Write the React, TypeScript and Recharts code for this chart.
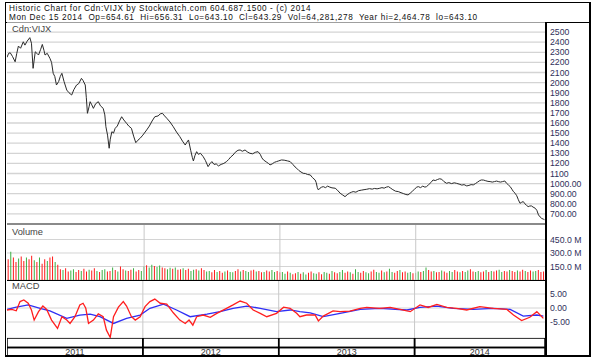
import { LineChart, Line, BarChart, Bar, Cell, XAxis, YAxis, CartesianGrid, ReferenceLine, ReferenceArea, LabelList } from "recharts";

// price (close) — day index from Jan 2011 (250 per year)
const priceDay = [
  0, 3, 6, 10, 15, 18, 21, 25, 30, 33, 37, 42, 45, 48, 52, 55, 58, 62, 65, 68, 70, 74, 79, 82, 85, 88, 91, 95, 98,
  101, 105, 110, 114, 119, 123, 128, 132, 137, 140, 144, 146, 148, 151, 153, 156, 159, 163, 168, 172, 177, 180,
  182, 185, 188, 190, 193, 196, 199, 203, 207, 211, 215, 220, 224, 229, 233, 237, 241, 245, 250, 257, 262, 267,
  272, 278, 282, 286, 290, 294, 300, 306, 312, 318, 323, 328, 331, 334, 338, 341, 343, 346, 349, 352, 356, 361,
  365, 370, 374, 377, 381, 385, 389, 394, 399, 404, 408, 412, 416, 420, 425, 429, 433, 438, 442, 447, 452, 457,
  462, 466, 469, 472, 477, 481, 484, 488, 492, 496, 500, 505, 510, 516, 521, 526, 530, 533, 537, 541, 545, 549,
  553, 558, 562, 565, 567, 569, 571, 573, 576, 579, 582, 586, 590, 594, 598, 604, 608, 613, 617, 622, 626, 630,
  634, 637, 642, 647, 652, 657, 662, 667, 672, 676, 681, 686, 690, 694, 698, 702, 706, 710, 715, 720, 725, 730,
  734, 738, 742, 746, 750, 754, 757, 761, 765, 769, 772, 776, 780, 784, 788, 792, 796, 800, 804, 809, 813, 818,
  823, 827, 832, 837, 841, 846, 850, 854, 858, 862, 866, 870, 873, 877, 881, 885, 889, 893, 897, 901, 904, 908,
  912, 916, 919, 923, 926, 929, 932, 935, 938, 941, 944, 947, 950, 953, 956, 959, 962, 965, 968, 972, 975, 978,
  981, 984, 987, 989,
];
const priceClose = [
  2250, 2290, 2295, 2260, 2206, 2290, 2362, 2340, 2404, 2371, 2410, 2445, 2390, 2141, 2305, 2290, 2273, 2330, 2378,
  2320, 2273, 2290, 2240, 2200, 2092, 2060, 1976, 2010, 2060, 2092, 2010, 1926, 1900, 1877, 1930, 1976, 1990, 2042,
  2020, 1976, 1850, 1696, 1760, 1811, 1780, 1745, 1790, 1811, 1770, 1745, 1680, 1563, 1480, 1350, 1440, 1514, 1500,
  1547, 1570, 1620, 1662, 1630, 1597, 1570, 1547, 1470, 1405, 1430, 1449, 1480, 1531, 1570, 1620, 1662, 1670, 1690,
  1696, 1670, 1647, 1610, 1563, 1510, 1465, 1420, 1382, 1410, 1432, 1330, 1260, 1224, 1280, 1316, 1290, 1300, 1267,
  1230, 1168, 1200, 1218, 1190, 1195, 1175, 1190, 1200, 1218, 1240, 1265, 1283, 1310, 1330, 1333, 1320, 1333, 1315,
  1300, 1295, 1310, 1316, 1290, 1255, 1234, 1215, 1200, 1185, 1195, 1210, 1218, 1225, 1234, 1232, 1225, 1218, 1190,
  1165, 1152, 1130, 1115, 1102, 1100, 1090, 1086, 1060, 1045, 1036, 1010, 960, 937, 955, 965, 970, 960, 975, 965,
  958, 954, 935, 905, 890, 871, 890, 905, 915, 921, 915, 930, 935, 940, 944, 950, 945, 952, 948, 954, 960, 955,
  965, 970, 955, 940, 925, 921, 910, 900, 892, 888, 905, 925, 945, 965, 970, 960, 975, 965, 970, 990, 1010, 1036,
  1030, 1040, 1048, 1043, 1020, 1003, 1010, 1000, 1008, 1003, 995, 985, 990, 977, 982, 990, 987, 1000, 1015, 1030,
  1036, 1035, 1028, 1022, 1020, 1015, 1020, 1025, 1020, 1015, 1020, 1026, 1005, 985, 970, 945, 920, 904, 880, 840,
  805, 815, 822, 800, 785, 772, 778, 779, 768, 756, 735, 690, 670, 655, 648, 643,
];

// weekly volume, millions of shares; u = up week (green), d = down week (red)
const volume = [
  230, 315, 250, 200, 240, 260, 210, 250, 230, 270, 220, 200, 250, 180, 230, 210, 250, 260, 200, 170,
  120, 110, 130, 95, 105, 120, 90, 110, 100, 125, 95, 115, 105, 130, 100, 90, 110, 120, 95, 100,
  140, 110, 95, 150, 120, 105, 100, 115, 130, 95, 110, 100,
  150, 165, 140, 170, 155, 145, 160, 140, 130, 120, 135, 125, 140, 115, 120, 130, 110, 125, 100, 115,
  120, 105, 130, 110, 95, 100, 85, 110, 90, 100, 80, 95, 105, 90, 85, 100, 120, 95, 110, 100,
  90, 105, 115, 95, 100, 85, 90, 105, 95, 110, 90, 100,
  85, 90, 70, 95, 80, 65, 75, 90, 70, 85, 60, 80, 95, 75, 70, 85, 65, 90, 80, 70,
  100, 85, 75, 90, 110, 80, 95, 85, 70, 120, 90, 80, 100, 85, 75, 95, 115, 90, 80, 105,
  85, 95, 125, 90, 80, 100, 110, 85, 95, 80, 90, 75,
  80, 95, 90, 100, 140, 110, 95, 100, 85, 90, 105, 95, 80, 100, 90, 110, 95, 85, 100, 90,
  105, 120, 95, 90, 100, 85, 95, 110, 90, 100, 95, 105, 115, 90, 100, 95, 110, 100, 90, 105,
  95, 115, 100, 90, 105, 95, 100, 110, 90, 95,
];
const volDir =
  "duddudduddududdudduddudduudduddudduduuddududdudduddu" +
  "uduuduudduududdudduududduuddudduduudduduudduddudduud" +
  "duududduduudduudduududduudduduudduudduududuuddudduud" +
  "uuduudduddudduudduduudduuddududduuddudduddudduuddd";

// MACD line and its signal line
const macdDay = [
  0, 9, 17, 24, 31, 39, 45, 50, 58, 66, 73, 82, 93, 101, 110, 116, 125, 134, 140, 145, 150, 159, 168, 177, 183,
  190, 196, 205, 214, 220, 229, 236, 245, 254, 263, 272, 282, 294, 306, 318, 328, 335, 342, 349, 361, 374, 386,
  404, 416, 429, 441, 453, 466, 478, 496, 509, 521, 533, 539, 551, 567, 573, 582, 600, 613, 631, 650, 662, 686,
  705, 723, 742, 760, 775, 791, 809, 827, 846, 870, 895, 920, 932, 947, 962, 975, 987,
];
const macdVal = [
  -0.7, -0.5, -1, 2.3, 2.9, 1.7, -0.7, -4.3, -1.3, 0.7, -0.5, -4.3, -7.3, -3.1, -4.3, -5.5, -3.1, 1.1, 1.7, -0.1,
  -5.5, -4.3, -2.1, -3.1, -7.9, -10.5, -3.1, 0.3, 2.3, 0.7, -3.1, -4.3, -3.1, 0.5, 2.3, 3.2, 1.7, 1.4, -1.7, -4.3,
  -5.5, -4.3, -6.1, -3.1, -2.5, -3.3, -1.9, -0.1, 1.1, 2.5, 1.7, -0.7, -1.9, -3.1, -1.9, 0.3, -0.1, -1.9, -3.1,
  -2.5, -2.5, -4.6, -2.9, -1, -1.3, -1.1, -0.1, 0.2, -0.1, 0.2, -0.5, -1.3, 1.1, 0.2, 1.3, 0.2, -0.1, -0.7, 0.5,
  -0.1, -0.5, -2.5, -4.5, -3.3, -1.3, -3.7,
];
const signalDay = [
  0, 15, 39, 61, 79, 110, 134, 153, 171, 196, 220, 245, 263, 288, 312, 337, 368, 392, 416, 441, 466, 496, 521,
  539, 558, 582, 613, 650, 686, 736, 760, 791, 821, 858, 895, 926, 950, 975, 987,
];
const signalVal = [
  -0.5, 0.2, 1.1, -0.1, -1, -3.7, -2.5, -2.2, -3.1, -5.5, -3.7, -2.5, -0.1, 1.4, -0.7, -3.1, -2.2, -1.3, -0.1,
  0.7, -0.1, -1.3, -0.7, -1.3, -1.7, -3.1, -1.9, -0.5, -0.1, -0.7, 0.2, 0.7, -0.1, -0.5, -0.1, -0.5, -2.9, -2.5,
  -2.9,
];

const years = ["2011", "2012", "2013", "2014"];
const yearStart = [0, 250, 500, 750];
const yearEnd = [250, 500, 750, 990];
const volYearWeeks = [52, 104, 156];

const priceTicks = [2500, 2400, 2300, 2200, 2100, 2000, 1900, 1800, 1700, 1600, 1500, 1400, 1300, 1200, 1100, 1000, 900, 800, 700];
const volTicks = [150, 300, 450];
const macdTicks = [5, 0, -5];

const FONT = "'Liberation Sans', Arial, sans-serif";
const PLOT_W = 538;
const AXIS_W = 45;

const priceData = priceDay.map((d, i) => ({ d, c: priceClose[i] }));
const volData = volume.map((v, i) => ({ w: i, v, up: volDir[i] === "u" }));
const macdData = macdDay.map((d, i) => ({ d, m: macdVal[i] }));
const signalData = signalDay.map((d, i) => ({ d, s: signalVal[i] }));
const yearLabels = years.map((y, i) => ({ d: (yearStart[i] + yearEnd[i]) / 2, row: 0.5, label: y }));

const abs = (left: number, top: number, extra: React.CSSProperties = {}): React.CSSProperties => ({
  position: "absolute", left, top, ...extra,
});

// plain svg text so labels like "450.0 M" don't get wrapped by recharts
const axisTick = (fmt: (v: number) => string) => (props: any) => (
  <text x={props.x} y={props.y} dy="0.35em" textAnchor="start" fill="#30305a" fontSize={8.7} fontFamily={FONT}>
    {fmt(props.payload.value)}
  </text>
);

const headerText: React.CSSProperties = {
  fontSize: 8.2, lineHeight: "9px", letterSpacing: 0.6, whiteSpace: "pre", color: "#111",
};

export default function App() {
  return (
    <div style={{ position: "absolute", left: 0, top: 0, width: 600, height: 364, background: "#fff", fontFamily: FONT }}>
      {/* outer frame + header */}
      <div style={abs(5, 2, { width: 586, height: 355, boxSizing: "border-box", borderTop: "1px solid #000", borderLeft: "1px solid #000", borderRight: "2px solid #000", borderBottom: "2px solid #000" })} />
      <div style={abs(5, 22, { width: 586, height: 1, background: "#000" })} />
      <div style={abs(9, 4, headerText)}>
        Historic Chart for Cdn:VIJX by Stockwatch.com 604.687.1500 - (c) 2014
      </div>
      <div style={abs(9, 13, headerText)}>
        {"Mon Dec 15 2014  Op=654.61  Hi=656.31  Lo=643.10  Cl=643.29  Vol=64,281,278  Year hi=2,464.78  lo=643.10"}
      </div>

      {/* price panel */}
      <div style={abs(7, 22)}>
        <LineChart width={PLOT_W + AXIS_W} height={202} data={priceData} margin={{ top: 0, right: 0, bottom: 0, left: 0 }}>
          <CartesianGrid stroke="#d4d4d4" strokeWidth={1.3} vertical={false} />
          <XAxis type="number" dataKey="d" domain={[0, 990]} hide />
          <YAxis orientation="right" width={AXIS_W} domain={[600, 2600]} ticks={priceTicks} interval={0}
            axisLine={false} tickLine={false} tickSize={0} tickMargin={5}
            tick={axisTick((v) => (v >= 1100 ? String(v) : v.toFixed(2)))} />
          <Line type="linear" dataKey="c" stroke="#2a2a2a" strokeWidth={1} dot={false} isAnimationActive={false} />
        </LineChart>
      </div>
      <div style={abs(12, 24, { fontSize: 9.3, lineHeight: "10px", color: "#444" })}>Cdn:VIJX</div>

      {/* volume panel */}
      <div style={abs(7, 224)}>
        <BarChart width={PLOT_W + AXIS_W} height={56} data={volData} barCategoryGap="25%" margin={{ top: 0, right: 0, bottom: 0, left: 0 }}>
          <CartesianGrid stroke="#d4d4d4" vertical={false} />
          <XAxis type="category" dataKey="w" hide />
          <YAxis orientation="right" width={AXIS_W} domain={[0, 622]} ticks={volTicks} interval={0}
            axisLine={false} tickLine={false} tickSize={0} tickMargin={5}
            tick={axisTick((v) => `${v.toFixed(1)} M`)} />
          {volYearWeeks.map((w) => (
            <ReferenceLine key={w} x={w} stroke="#c8c8c8" />
          ))}
          <Bar dataKey="v" isAnimationActive={false}>
            {volData.map((p) => (
              <Cell key={p.w} fill={p.up ? "#3cb043" : "#ff1a1a"} />
            ))}
          </Bar>
        </BarChart>
      </div>
      <div style={abs(12, 227, { fontSize: 9.3, lineHeight: "10px", color: "#444" })}>Volume</div>

      {/* MACD panel */}
      <div style={abs(7, 280)}>
        <LineChart width={PLOT_W + AXIS_W} height={58} margin={{ top: 0, right: 0, bottom: 0, left: 0 }}>
          <CartesianGrid stroke="#d4d4d4" vertical={false} />
          <XAxis type="number" dataKey="d" domain={[0, 990]} hide />
          <YAxis orientation="right" width={AXIS_W} domain={[-10.7, 10]} ticks={macdTicks} interval={0}
            axisLine={false} tickLine={false} tickSize={0} tickMargin={5}
            tick={axisTick((v) => v.toFixed(2))} />
          {yearStart.slice(1).map((d) => (
            <ReferenceLine key={d} x={d} stroke="#c8c8c8" />
          ))}
          <Line data={signalData} type="linear" dataKey="s" stroke="#2f2ff5" strokeWidth={1.3} dot={false} isAnimationActive={false} />
          <Line data={macdData} type="linear" dataKey="m" stroke="#ff1f1f" strokeWidth={1.3} dot={false} isAnimationActive={false} />
        </LineChart>
      </div>
      <div style={abs(12, 281, { fontSize: 9.3, lineHeight: "10px", color: "#444" })}>MACD</div>

      {/* year band */}
      <div style={abs(7, 338)}>
        <LineChart width={PLOT_W} height={19} margin={{ top: 0, right: 0, bottom: 0, left: 0 }}>
          <XAxis type="number" dataKey="d" domain={[0, 990]} hide />
          <YAxis type="number" domain={[0, 2]} hide />
          {years.map((y, i) => (
            <ReferenceArea key={"t" + y} x1={yearStart[i]} x2={yearEnd[i]} y1={1} y2={2}
              fill="none" stroke="#000" strokeWidth={1.5} ifOverflow="visible" />
          ))}
          {years.map((y, i) => (
            <ReferenceArea key={"b" + y} x1={yearStart[i]} x2={yearEnd[i]} y1={0} y2={1}
              fill="none" stroke="#000" strokeWidth={1.5} ifOverflow="visible" />
          ))}
          <Line data={yearLabels} dataKey="row" stroke="none" dot={false} isAnimationActive={false}>
            <LabelList dataKey="label" position="center" fill="#333" fontSize={9} fontFamily={FONT} />
          </Line>
        </LineChart>
      </div>

      {/* separators */}
      <div style={abs(7, 223, { width: PLOT_W, height: 2, background: "#8a8a8a" })} />
      <div style={abs(7, 280, { width: PLOT_W, height: 1, background: "#000" })} />
      <div style={abs(545, 22, { width: 2, height: 335, background: "#000" })} />
    </div>
  );
}
